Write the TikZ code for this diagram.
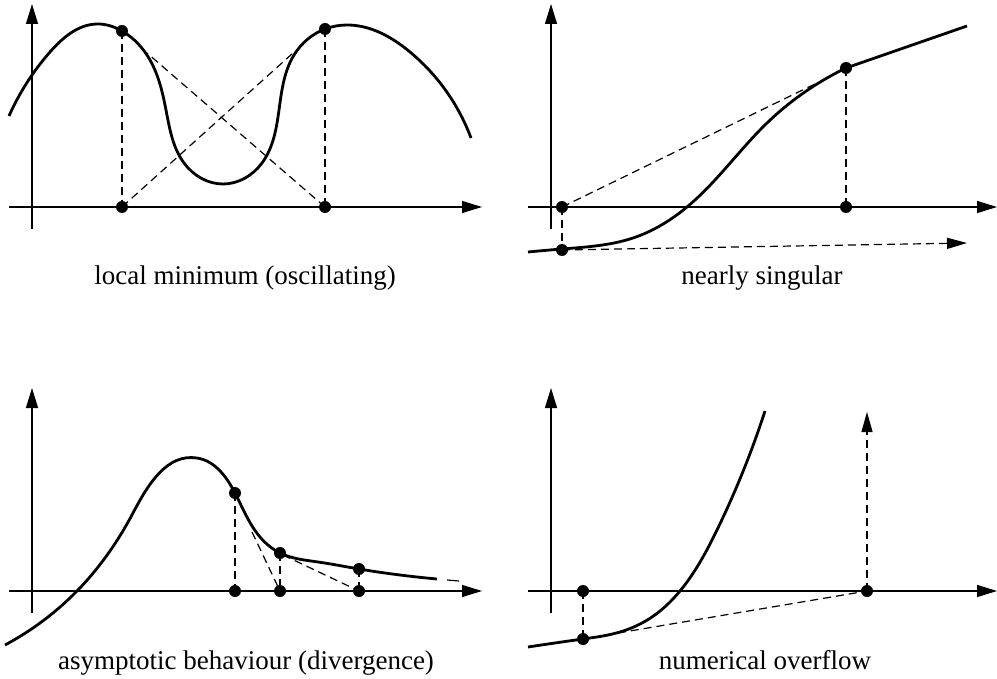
\documentclass[tikz,border=0pt]{standalone}
\usepackage{fontspec}
\setmainfont{Liberation Serif}
\usetikzlibrary{arrows.meta,hobby}
\begin{document}
\begin{tikzpicture}[x=1pt,y=-1pt,
  axis/.style={line width=1.3pt,-{Triangle[length=20pt,width=12pt]}},
  curve/.style={line width=2.8pt,line join=round,line cap=butt},
  dashline/.style={line width=1.2pt,dash pattern=on 8pt off 5pt},
  dasharrow/.style={dashline,-{Triangle[length=20pt,width=11pt]}},
  dot/.style={circle,fill=black,inner sep=0pt,minimum size=12pt},
  caption/.style={font=\fontsize{27}{32}\selectfont,anchor=base}]
\useasboundingbox (0,0) rectangle (997,679);

% ---------------- panel 1 ----------------
\coordinate (A1ys) at (32,229); \coordinate (A1ye) at (32,4);
\coordinate (A1xs) at (9,207);  \coordinate (A1xe) at (482,207);
\draw[axis] (A1ys) -- (A1ye);
\draw[axis] (A1xs) -- (A1xe);
\draw[curve] (9,116) to[curve through={(50,52) (97,24) (122,31) (150,60)
 (166,110) (184,163) (223,184) (262,163) (279,110) (294,55) (325,29)
 (347,25) (410,52)}] (471,138);
\coordinate (t1a) at (293,53);
\coordinate (t1b) at (147,53);
\node[dot] (p1a) at (122,31) {};
\node[dot] (p1b) at (325,29) {};
\node[dot] (q1a) at (122,207) {};
\node[dot] (q1b) at (325,207) {};
\draw[dashline] (p1a.center) -- (q1a.center);
\draw[dashline] (p1b.center) -- (q1b.center);
\draw[dashline] (q1a.center) -- (t1a);
\draw[dashline] (q1b.center) -- (t1b);
\node[caption] (c1) at (245,285) {local minimum (oscillating)};

% ---------------- panel 2 ----------------
\coordinate (A2ys) at (551,229); \coordinate (A2ye) at (551,4);
\coordinate (A2xs) at (528,207); \coordinate (A2xe) at (997,207);
\draw[axis] (A2ys) -- (A2ye);
\draw[axis] (A2xs) -- (A2xe);
\draw[curve] (528,252) to[curve through={(562,249) (633,238) (687,207)
 (767,123) (817,84)}] (846,68) -- (967,26);
\coordinate (t2) at (817,83);
\coordinate (e2) at (967,243);
\node[dot] (q2a) at (562,207) {};
\node[dot] (q2b) at (846,207) {};
\node[dot] (p2b) at (846,68) {};
\node[dot] (p2a) at (562,250) {};
\draw[dashline] (q2a.center) -- (t2);
\draw[dashline] (q2a.center) -- (p2a.center);
\draw[dashline] (p2b.center) -- (q2b.center);
\draw[dasharrow] (p2a.center) -- (e2);
\node[caption] (c2) at (762,285) {nearly singular};

% ---------------- panel 3 ----------------
\coordinate (A3ys) at (32,613); \coordinate (A3ye) at (32,388);
\coordinate (A3xs) at (9,591);  \coordinate (A3xe) at (482,591);
\draw[axis] (A3ys) -- (A3ye);
\draw[axis] (A3xs) -- (A3xe);
\draw[curve] (5,645) to[curve through={(77,591) (133,513) (197,458)
 (235,493) (260,537) (280,553) (318,562) (359,569) (400,575)}] (437,579);
\coordinate (t3a) at (252,532);
\coordinate (t3b) at (283,555);
\coordinate (e3a) at (447,580);
\coordinate (e3b) at (459,581);
\node[dot] (p3a) at (235,493) {};
\node[dot] (p3b) at (280,553) {};
\node[dot] (p3c) at (359,569) {};
\node[dot] (q3a) at (235,591) {};
\node[dot] (q3b) at (280,591) {};
\node[dot] (q3c) at (359,591) {};
\draw[dashline] (p3a.center) -- (q3a.center);
\draw[dashline] (p3b.center) -- (q3b.center);
\draw[dashline] (p3c.center) -- (q3c.center);
\draw[dashline] (t3a) -- (q3b.center);
\draw[dashline] (t3b) -- (q3c.center);
\draw[line width=1.2pt] (e3a) -- (e3b);
\node[caption] (c3) at (246,669) {asymptotic behaviour (divergence)};

% ---------------- panel 4 ----------------
\coordinate (A4ys) at (551,613); \coordinate (A4ye) at (551,388);
\coordinate (A4xs) at (528,591); \coordinate (A4xe) at (997,591);
\draw[axis] (A4ys) -- (A4ye);
\draw[axis] (A4xs) -- (A4xe);
\draw[curve] (528,647) to[curve through={(583,639) (620,632) (652,617)
 (680,591) (717,530)}] (765,411);
\coordinate (t4) at (618,633);
\coordinate (e4) at (867,412);
\node[dot] (q4a) at (583,591) {};
\node[dot] (p4a) at (583,639) {};
\node[dot] (q4b) at (867,591) {};
\draw[dashline] (q4a.center) -- (p4a.center);
\draw[dashline] (t4) -- (q4b.center);
\draw[dasharrow] (q4b.center) -- (e4);
\node[caption] (c4) at (765,669) {numerical overflow};
\end{tikzpicture}
\end{document}
